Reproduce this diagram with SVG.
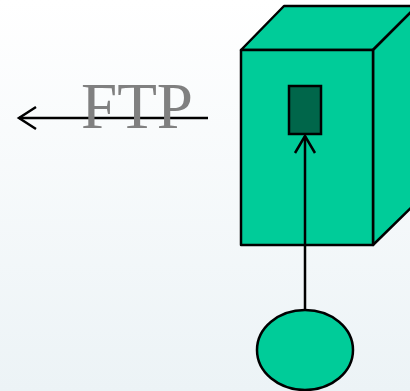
<svg xmlns="http://www.w3.org/2000/svg" width="410" height="391" viewBox="0 0 410 391">
<defs>
<linearGradient id="bg" x1="0" y1="0" x2="0" y2="1">
<stop offset="0" stop-color="#ffffff"/>
<stop offset="1" stop-color="#ecf3f6"/>
</linearGradient>
</defs>
<style>
.shape{fill:#00cc99;stroke:#000;stroke-width:2.5;stroke-linejoin:round}
.conn{fill:none;stroke:#000;stroke-width:2.5}
.label{font-family:"Liberation Serif",serif;font-size:65px;fill:#808080}
</style>
<rect width="410" height="391" fill="url(#bg)"/>
<g id="server">
<polygon class="shape" points="241,50 284,6 417,6 373,50"/>
<polygon class="shape" points="373,50 417,6 417,202 373,245"/>
<rect class="shape" x="241" y="50" width="132" height="195"/>
<rect x="289" y="86" width="32" height="48" fill="#00664a" stroke="#000" stroke-width="2.5"/>
</g>
<g id="client">
<ellipse class="shape" cx="305" cy="350" rx="48" ry="40"/>
</g>
<g id="connectors">
<line class="conn" x1="305" y1="310" x2="305" y2="136"/>
<polyline class="conn" points="295,153 305,136 315,153"/>
<line class="conn" x1="208" y1="118" x2="19" y2="118"/>
<polyline class="conn" points="36,107 19,118 36,129"/>
</g>
<g id="ftp-label">
<text class="label" x="81" y="128">FTP</text>
</g>
</svg>
